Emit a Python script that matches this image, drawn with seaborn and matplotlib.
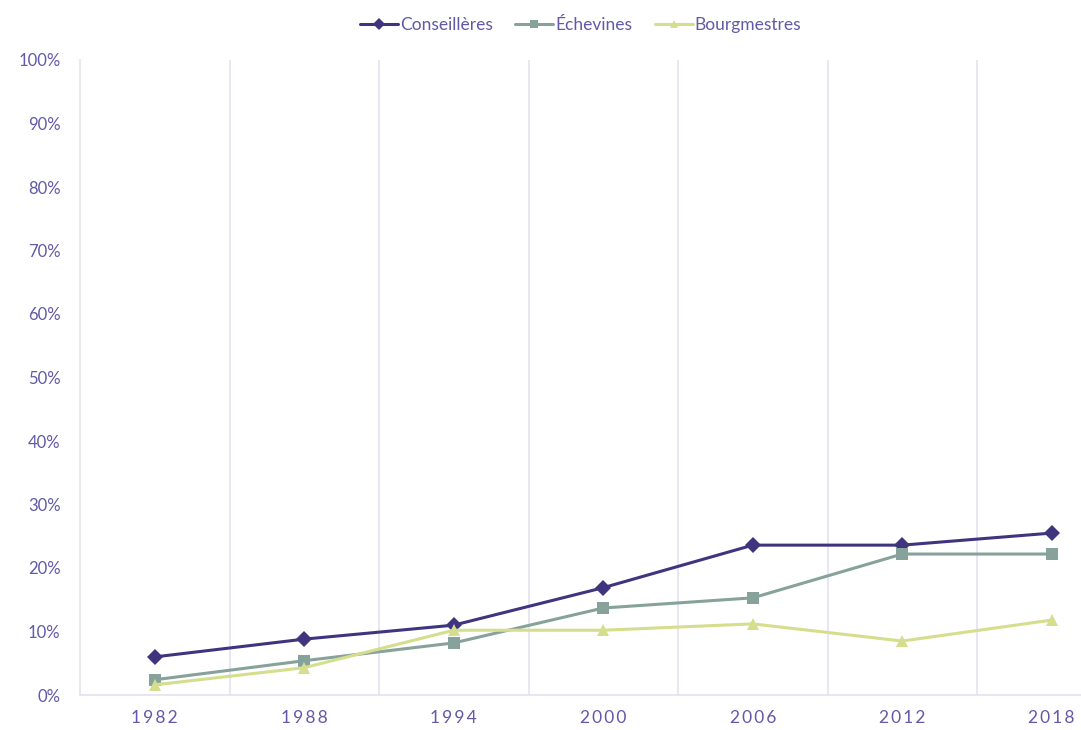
import matplotlib
matplotlib.use("Agg")
import matplotlib.pyplot as plt
import seaborn as sns
import pandas as pd

annees = ["1982", "1988", "1994", "2000", "2006", "2012", "2018"]
conseilleres = [6.0, 8.8, 11.0, 16.9, 23.6, 23.6, 25.5]
echevines = [2.4, 5.4, 8.2, 13.7, 15.3, 22.2, 22.2]
bourgmestres = [1.6, 4.3, 10.2, 10.2, 11.2, 8.5, 11.8]

series = {"Conseillères": conseilleres, "Échevines": echevines, "Bourgmestres": bourgmestres}
couleurs = {"Conseillères": "#3f357f", "Échevines": "#87a29b", "Bourgmestres": "#d5de8c"}
marqueurs = {"Conseillères": "D", "Échevines": "s", "Bourgmestres": "^"}
texte = "#6259a8"

rows = []
for nom, vals in series.items():
    for i, v in enumerate(vals):
        rows.append({"pos": i, "annee": annees[i], "valeur": v, "serie": nom})
df = pd.DataFrame(rows)

sns.set_theme(style="white")
plt.rcParams["font.family"] = ["Lato", "DejaVu Sans"]

fig = plt.figure(figsize=(10.81, 7.30), dpi=100)
ax = fig.add_axes([80 / 1081, 35 / 730, 1 - 80 / 1081, (695 - 60) / 730])

sns.lineplot(data=df, x="pos", y="valeur", hue="serie", style="serie",
             palette=couleurs, markers=marqueurs, dashes=False,
             linewidth=2.2, markersize=8, markeredgewidth=0, ax=ax)

ax.set_xlim(-0.5, (1081 - 80) / 149.5 - 0.5)
ax.set_ylim(0, 100)

grid_col = "#e3e1f0"
for b in [0.5, 1.5, 2.5, 3.5, 4.5, 5.5]:
    ax.axvline(b, color=grid_col, lw=1.2, zorder=0)

for s in ["top", "right"]:
    ax.spines[s].set_visible(False)
ax.spines["left"].set_color(grid_col)
ax.spines["left"].set_linewidth(1.2)
ax.spines["bottom"].set_color(grid_col)
ax.spines["bottom"].set_linewidth(1.2)

ax.set_xticks(range(len(annees)))
ax.set_xticklabels(["\u2009".join(a) for a in annees])
ax.set_yticks(range(0, 101, 10))
ax.set_yticklabels([f"{t}%" for t in range(0, 101, 10)])
ax.tick_params(axis="x", length=0, pad=11, labelsize=12.5, labelcolor=texte)
ax.tick_params(axis="y", length=0, pad=14, labelsize=12, labelcolor=texte)
ax.set_xlabel("")
ax.set_ylabel("")

handles, labels = ax.get_legend_handles_labels()
for h in handles:
    h.set_markersize(6)
ax.legend(handles, labels, loc="center", bbox_to_anchor=(0.5, 1 + 35 / 635),
          ncol=3, frameon=False, fontsize=12.5,
          labelcolor=texte, handlelength=2.2, handletextpad=0.1, columnspacing=1.3)

fig.savefig("out.png", dpi=100)
